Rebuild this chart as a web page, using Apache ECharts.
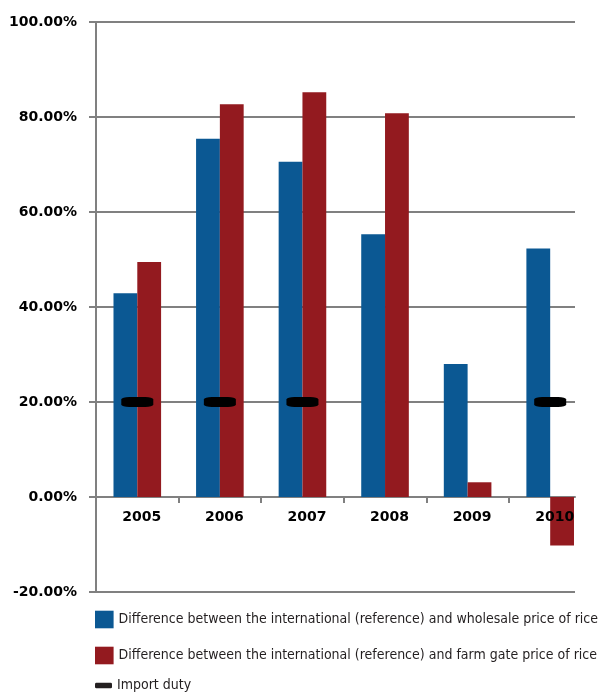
<!DOCTYPE html>
<html>
<head>
<meta charset="utf-8">
<script src="https://cdn.jsdelivr.net/npm/echarts@6/dist/echarts.min.js"></script>
<style>
html,body{margin:0;padding:0;background:#fff;}
#chart{width:612px;height:697px;}
</style>
</head>
<body>
<div id="chart"></div>
<script>
const years = ['2005', '2006', '2007', '2008', '2009', '2010'];
const wholesaleDiff = [42.9, 75.4, 70.6, 55.3, 28.0, 52.3];
const farmGateDiff = [49.5, 82.7, 85.2, 80.8, 3.1, -10.2];
const importDuty = [20, 20, 20, null, null, 20];
const yMin = -20, yMax = 100, yStep = 20;
const boundaryTicks = [1, 2, 3, 4, 5];

const nameWholesale = 'Difference between the international (reference) and wholesale price of rice';
const nameFarm = 'Difference between the international (reference) and farm gate price of rice';
const nameDuty = 'Import duty';

const BLUE = '#0b5893';
const RED = '#931a1f';
const GRAY = '#808080';
const legendFont = "'Liberation Sans Narrow', 'DejaVu Sans Condensed', 'Roboto Condensed', sans-serif";
const axisFont = "'DejaVu Sans', sans-serif";

const catWidth = 82.58;
const gridLeft = 96, gridTop = 22, gridH = 570;
const lineW = 479;
// pixel distance from the bottom of the plot up to the 0 value line
const zeroOffset = gridH * (0 - yMin) / (yMax - yMin);

const chart = echarts.init(document.getElementById('chart'), null, {renderer: 'canvas'});
const legendText = {fontFamily: legendFont, fontSize: 14, color: '#231f20'};

chart.setOption({
  animation: false,
  backgroundColor: '#fff',
  grid: [
    {left: gridLeft, top: gridTop, width: catWidth * 6, height: gridH, containLabel: false},
    {left: gridLeft, top: gridTop, width: lineW, height: gridH, containLabel: false}
  ],
  xAxis: [
    {
      type: 'category', gridIndex: 0, data: years, position: 'bottom', offset: -zeroOffset,
      z: 10,
      axisLine: {show: false, onZero: false},
      axisTick: {show: false},
      splitLine: {show: false},
      axisLabel: {
        fontFamily: axisFont, fontWeight: 'bold', fontSize: 14, color: '#000',
        margin: 13, padding: [0, 0, 0, 9], interval: 0
      }
    },
    {
      type: 'value', gridIndex: 1, min: 0, max: lineW / catWidth,
      axisLine: {show: true, onZero: true, lineStyle: {color: GRAY, width: 2}},
      axisTick: {show: true, length: 6, customValues: boundaryTicks, lineStyle: {color: GRAY, width: 2}},
      axisLabel: {show: false},
      splitLine: {show: false}
    }
  ],
  yAxis: [
    {
      type: 'value', gridIndex: 0, min: yMin, max: yMax, interval: yStep,
      axisLine: {show: true, lineStyle: {color: GRAY, width: 2}},
      axisTick: {show: true, length: 7, lineStyle: {color: GRAY, width: 2}},
      splitLine: {show: false},
      axisLabel: {
        fontFamily: axisFont, fontWeight: 'bold', fontSize: 14, color: '#000', margin: 19,
        formatter: v => v.toFixed(2) + '%'
      }
    },
    {
      type: 'value', gridIndex: 1, min: yMin, max: yMax, interval: yStep,
      axisLine: {show: false}, axisTick: {show: false}, axisLabel: {show: false},
      splitLine: {show: true, lineStyle: {color: GRAY, width: 2}}
    }
  ],
  legend: [
    {
      data: [{name: nameWholesale, icon: 'rect'}], left: 95, top: 610.7, padding: 0,
      itemWidth: 18.6, itemHeight: 17.6, textStyle: legendText, selectedMode: false
    },
    {
      data: [{name: nameFarm, icon: 'rect'}], left: 95, top: 646.7, padding: 0,
      itemWidth: 18.6, itemHeight: 17.6, textStyle: legendText, selectedMode: false
    },
    {
      data: [{name: nameDuty, icon: 'roundRect'}], left: 95, top: 678.5, padding: 0,
      itemWidth: 17, itemHeight: 5.5, textStyle: legendText, selectedMode: false,
      itemStyle: {color: '#231f20', opacity: 1}
    }
  ],
  series: [
    {
      name: nameWholesale, type: 'bar', xAxisIndex: 0, yAxisIndex: 0,
      data: wholesaleDiff, barWidth: 23.8, barGap: '0%',
      itemStyle: {color: BLUE}, z: 2
    },
    {
      name: nameFarm, type: 'bar', xAxisIndex: 0, yAxisIndex: 0,
      data: farmGateDiff, barWidth: 23.8, barGap: '0%',
      itemStyle: {color: RED}, z: 2
    },
    {
      name: nameDuty, type: 'scatter', xAxisIndex: 0, yAxisIndex: 0,
      data: importDuty, symbol: 'roundRect', symbolSize: [32, 10],
      itemStyle: {color: '#000', opacity: 1}, z: 5
    }
  ]
});
</script>
</body>
</html>
